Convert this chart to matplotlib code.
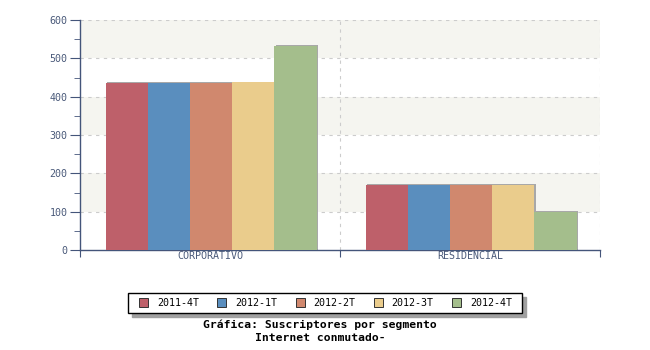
import numpy as np
import matplotlib.pyplot as plt
from matplotlib.patches import Rectangle

segmentos = ["CORPORATIVO", "RESIDENCIAL"]
periodos = ["2011-4T", "2012-1T", "2012-2T", "2012-3T", "2012-4T"]
valores = {
    "2011-4T": [436, 170],
    "2012-1T": [436, 170],
    "2012-2T": [436, 170],
    "2012-3T": [437, 170],
    "2012-4T": [532, 100],
}
colores = ["#be606a", "#5a8ebe", "#d0886e", "#eacc8c", "#a4be8c"]
yticks = [0, 100, 200, 300, 400, 500, 600]

eje = "#44557a"
texto = "#4a5a7a"
W, H = 650, 350

fig = plt.figure(figsize=(6.5, 3.5), dpi=100)
ax = fig.add_axes([80 / W, 100 / H, 520 / W, 230 / H])

# bandas alternas de fondo
for lo in range(100, 600, 200):
    ax.axhspan(lo, lo + 100, color="#f5f5f0", zorder=0, lw=0)

for y in yticks[1:]:
    ax.axhline(y, color="#cccccc", ls=(0, (3, 4)), lw=0.8, zorder=1)
for x in [1, 2]:
    ax.axvline(x, color="#cccccc", ls=(0, (3, 4)), lw=0.8, zorder=1)

n = len(periodos)
ancho = 0.81 / n
centros = np.arange(len(segmentos)) + 0.5
for i, p in enumerate(periodos):
    xs = centros - 0.40 + ancho * (i + 0.5)
    # sombra ligera
    ax.bar(xs + 0.004, np.array(valores[p]) + 1.5, width=ancho, color="#a8a8a8",
           zorder=2, lw=0)
    ax.bar(xs, valores[p], width=ancho, color=colores[i], zorder=3, lw=0,
           label=p)

ax.set_xlim(0, 2)
ax.set_ylim(0, 600)
ax.set_yticks(yticks)
ax.set_yticks(np.arange(50, 600, 100), minor=True)
ax.set_xticks([0, 1, 2])
ax.set_xticklabels([])
ax.set_xticks(centros, minor=True)
ax.set_xticklabels(segmentos, minor=True)

for s in ["top", "right"]:
    ax.spines[s].set_visible(False)
for s in ["left", "bottom"]:
    ax.spines[s].set_color(eje)
    ax.spines[s].set_linewidth(1.0)

ax.tick_params(axis="y", which="major", length=7, color=eje, labelcolor=texto,
               labelsize=7.2, pad=2)
ax.tick_params(axis="y", which="minor", length=4, color=eje)
ax.tick_params(axis="x", which="major", length=5, color=eje)
ax.tick_params(axis="x", which="minor", length=0, labelcolor=texto,
               labelsize=7.2, pad=1)
for lab in ax.get_yticklabels() + ax.get_xticklabels(minor=True):
    lab.set_family("DejaVu Sans Mono")

# leyenda con sombra
lx, ly, lw_, lh = 128 / W, (H - 313) / H, 394 / W, 20 / H
fig.patches.append(Rectangle((lx + 4 / W, ly - 4 / H), lw_, lh,
                             transform=fig.transFigure, color="#a0a0a0",
                             zorder=0))
fig.patches.append(Rectangle((lx, ly), lw_, lh, transform=fig.transFigure,
                             facecolor="white", edgecolor="black", lw=1,
                             zorder=1))
paso = 78.25 / W
for i, p in enumerate(periodos):
    x0 = 139 / W + paso * i
    fig.patches.append(Rectangle((x0, ly + 6 / H), 9 / W, 9 / H,
                                 transform=fig.transFigure,
                                 facecolor=colores[i], edgecolor="#333333",
                                 lw=0.7, zorder=2))
    fig.text(x0 + 18 / W, ly + lh / 2, p, ha="left", va="center",
             fontsize=7.2, family="DejaVu Sans Mono", color="black")

fig.text(320 / W, 1 - 325 / H, "Gráfica: Suscriptores por segmento",
         ha="center", va="center", fontsize=8.2, fontweight="bold",
         family="DejaVu Sans Mono")
fig.text(320 / W, 1 - 338 / H, "Internet conmutado-",
         ha="center", va="center", fontsize=8.2, fontweight="bold",
         family="DejaVu Sans Mono")

fig.savefig("out.png", dpi=100)
